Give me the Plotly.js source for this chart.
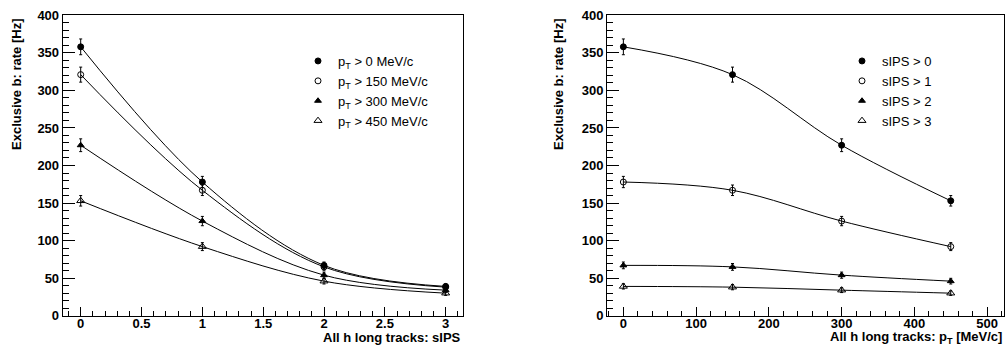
<!DOCTYPE html>
<html>
<head>
<meta charset="utf-8">
<script src="https://cdn.plot.ly/plotly-3.0.1.min.js"></script>
<style>html,body{margin:0;padding:0;background:#fff;}#plot{width:1005px;height:345px;}</style>
</head>
<body>
<div id="plot"></div>
<script>
// ---- Data ----
var sipsCuts = [0, 1, 2, 3];
var ptCuts = [0, 150, 300, 450];

// rate[pT cut][sIPS cut]
var rate_pt0   = [358, 178, 67, 39];
var rate_pt150 = [321, 167, 65, 38];
var rate_pt300 = [227, 126, 54, 34];
var rate_pt450 = [153, 92, 46, 30];

var err_pt0   = [10.5, 7.5, 4.5, 3.5];
var err_pt150 = [10, 7, 4.5, 3.5];
var err_pt300 = [8.5, 6.2, 4.1, 3.2];
var err_pt450 = [7, 5.3, 3.8, 3];

// rate[sIPS cut][pT cut]
var rate_sips0 = [358, 321, 227, 153];
var rate_sips1 = [178, 167, 126, 92];
var rate_sips2 = [67, 65, 54, 46];
var rate_sips3 = [39, 38, 34, 30];

var err_sips0 = [10.5, 10, 8.5, 7];
var err_sips1 = [7.5, 7, 6.2, 5.3];
var err_sips2 = [4.5, 4.5, 4.1, 3.8];
var err_sips3 = [3.5, 3.5, 3.2, 3];

var leftLabels = ['p<sub>T</sub> > 0 MeV/c', 'p<sub>T</sub> > 150 MeV/c', 'p<sub>T</sub> > 300 MeV/c', 'p<sub>T</sub> > 450 MeV/c'];
var rightLabels = ['sIPS > 0', 'sIPS > 1', 'sIPS > 2', 'sIPS > 3'];

var leftSeries = [rate_pt0, rate_pt150, rate_pt300, rate_pt450];
var leftErrors = [err_pt0, err_pt150, err_pt300, err_pt450];
var rightSeries = [rate_sips0, rate_sips1, rate_sips2, rate_sips3];
var rightErrors = [err_sips0, err_sips1, err_sips2, err_sips3];

var symbols = ['circle', 'circle-open', 'triangle-up', 'triangle-up-open'];
var sizes = [6, 6, 6, 7];

// ---- Traces ----
var traces = [];
function addPanel(xs, series, errs, labels, xa, ya, leg) {
  series.forEach(function (ys, i) {
    traces.push({
      x: xs, y: ys, xaxis: xa, yaxis: ya, type: 'scatter', mode: 'lines',
      line: {shape: 'spline', smoothing: 1, color: '#000', width: 1},
      showlegend: false, hoverinfo: 'skip', legend: leg
    });
  });
  series.forEach(function (ys, i) {
    traces.push({
      x: xs, y: ys, xaxis: xa, yaxis: ya, type: 'scatter', mode: 'markers',
      name: labels[i], legend: leg,
      marker: {symbol: symbols[i], size: sizes[i], color: '#000', line: {color: '#000', width: 1}},
      error_y: {type: 'data', array: errs[i], visible: true, color: '#000', thickness: 1, width: 1.5}
    });
  });
}
addPanel(sipsCuts, leftSeries, leftErrors, leftLabels, 'x', 'y', 'legend');
addPanel(ptCuts, rightSeries, rightErrors, rightLabels, 'x2', 'y2', 'legend2');

// ---- Layout ----
var W = 1005, H = 345;
var tickFont = {family: 'Liberation Sans, Arial, sans-serif', size: 13, color: '#000', weight: 'bold'};
function yAxis(anchor) {
  return {
    anchor: anchor, range: [0, 400], domain: [(H - 315.7) / H, (H - 15.3) / H],
    dtick: 50, tick0: 0, ticks: 'inside', ticklen: 12, tickwidth: 1, tickcolor: '#000',
    minor: {ticks: 'inside', ticklen: 6, dtick: 10, tickcolor: '#000', tickwidth: 1, showgrid: false},
    showline: true, linecolor: '#000', linewidth: 1, mirror: true,
    showgrid: false, zeroline: false, tickfont: tickFont, fixedrange: true
  };
}
function xAxis(anchor, range, domain, dtick, mdtick) {
  return {
    anchor: anchor, range: range, domain: domain, dtick: dtick, tick0: 0,
    ticks: 'inside', ticklen: 9, tickwidth: 1, tickcolor: '#000',
    minor: {ticks: 'inside', ticklen: 5, dtick: mdtick, tickcolor: '#000', tickwidth: 1, showgrid: false},
    showline: true, linecolor: '#000', linewidth: 1, mirror: true, ticklabelstandoff: -4,
    showgrid: false, zeroline: false, tickfont: tickFont, fixedrange: true
  };
}

var titleFont = {family: 'Liberation Sans, Arial, sans-serif', size: 13, color: '#000', weight: 'bold'};
var legFont = {family: 'Liberation Sans, Arial, sans-serif', size: 13, color: '#000'};

var layout = {
  width: W, height: H,
  margin: {l: 0, r: 0, t: 0, b: 0},
  paper_bgcolor: '#fff', plot_bgcolor: '#fff',
  xaxis: xAxis('y', [-0.148, 3.14], [62.7 / W, 462.7 / W], 0.5, 0.1),
  yaxis: yAxis('x'),
  xaxis2: xAxis('y2', [-22.5, 522.5], [607 / W, 1003.5 / W], 100, 20),
  yaxis2: yAxis('x2'),
  legend: {x: 298 / W, y: 1 - 46 / H, xanchor: 'left', yanchor: 'top', bgcolor: 'rgba(0,0,0,0)',
           font: legFont, tracegroupgap: 0, borderwidth: 0},
  legend2: {x: 842 / W, y: 1 - 46 / H, xanchor: 'left', yanchor: 'top', bgcolor: 'rgba(0,0,0,0)',
            font: legFont, tracegroupgap: 0, borderwidth: 0},
  annotations: [
    {text: 'Exclusive b: rate [Hz]', xref: 'paper', yref: 'paper', x: 16 / W, y: 1 - 16 / H,
     xanchor: 'center', yanchor: 'top', textangle: -90, showarrow: false, font: titleFont},
    {text: 'Exclusive b: rate [Hz]', xref: 'paper', yref: 'paper', x: 558 / W, y: 1 - 16 / H,
     xanchor: 'center', yanchor: 'top', textangle: -90, showarrow: false, font: titleFont},
    {text: 'All h long tracks: sIPS', xref: 'paper', yref: 'paper', x: 463 / W, y: (H - 337.5) / H,
     xanchor: 'right', yanchor: 'middle', showarrow: false, font: titleFont},
    {text: 'All h long tracks: p<sub>T</sub> [MeV/c]', xref: 'paper', yref: 'paper', x: 1004 / W, y: (H - 337.8) / H,
     xanchor: 'right', yanchor: 'middle', showarrow: false, font: titleFont}
  ]
};

Plotly.newPlot('plot', traces, layout, {staticPlot: true, displayModeBar: false});
</script>
</body>
</html>
